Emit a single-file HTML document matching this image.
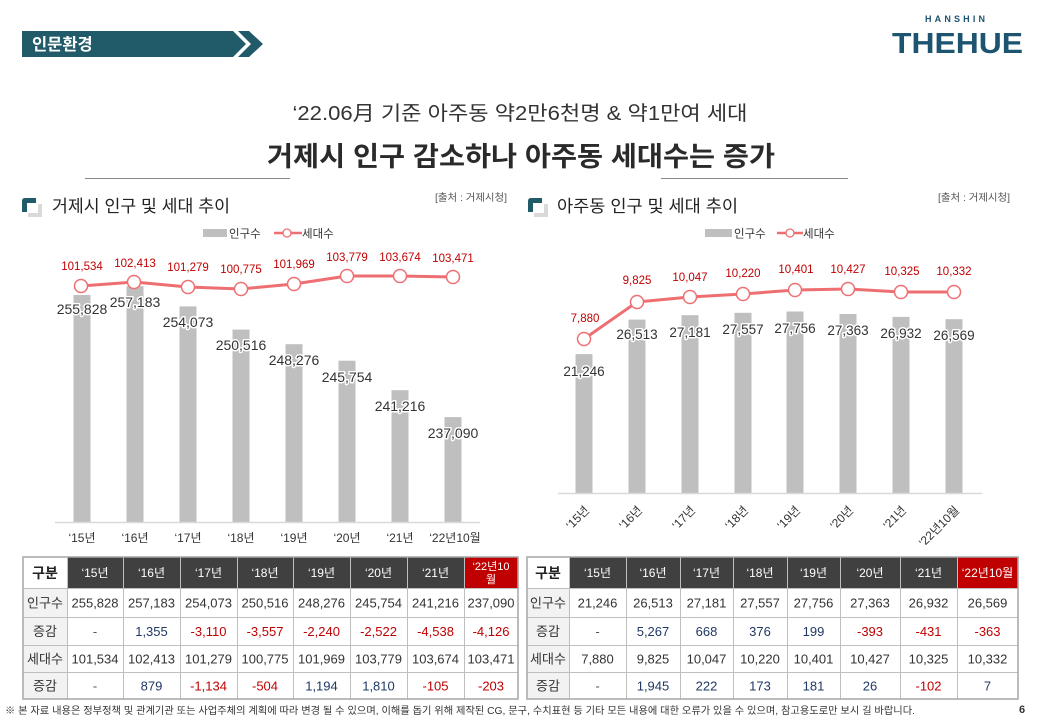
<!DOCTYPE html>
<html lang="ko">
<head>
<meta charset="utf-8">
<style>
  html,body{margin:0;padding:0;background:#fff;}
  body{width:1040px;height:720px;overflow:hidden;}
  svg{display:block;}
  text{font-family:"Liberation Sans","Noto Sans CJK KR",sans-serif;}
  .red{fill:#c00000;font-size:11.5px;text-anchor:middle;}
  .val{fill:#333;font-size:14px;text-anchor:middle;stroke:#fff;stroke-width:3px;paint-order:stroke;stroke-linejoin:round;}
  .valr{fill:#333;font-size:13.5px;text-anchor:middle;stroke:#fff;stroke-width:3px;paint-order:stroke;stroke-linejoin:round;}
  .xl{fill:#333;font-size:12px;text-anchor:middle;}
  .xr{fill:#333;font-size:12px;text-anchor:end;}
  .th{fill:#fff;font-size:12px;text-anchor:middle;}
  .td{fill:#333;font-size:13px;text-anchor:middle;}
  .tk{fill:#333;font-size:13px;text-anchor:middle;}
  .b{fill:#1f3864;font-size:13px;text-anchor:middle;}
  .r{fill:#c00000;font-size:13px;text-anchor:middle;}
  .d{fill:#555;font-size:13px;text-anchor:middle;}
</style>
</head>
<body>
<svg width="1040" height="720" viewBox="0 0 1040 720" xmlns="http://www.w3.org/2000/svg">
  <rect x="0" y="0" width="1040" height="720" fill="#fff"/>

  <!-- Header bar -->
  <polygon points="22,31 233,31 246,44 233,57 22,57" fill="#215a68"/>
  <polygon points="238,31 249,31 263,44 249,57 238,57 251,44" fill="#215a68"/>
  <text x="32" y="50" fill="#fff" font-size="16.5" font-weight="bold">인문환경</text>

  <!-- Logo -->
  <text x="925" y="22" fill="#1d5470" font-size="9" font-weight="bold" textLength="60" lengthAdjust="spacing">HANSHIN</text>
  <text x="892" y="53" fill="#1d5470" font-size="29" font-weight="bold" textLength="131" lengthAdjust="spacingAndGlyphs">THEHUE</text>

  <!-- Titles -->
  <text x="520" y="120" fill="#333" font-size="20" text-anchor="middle" textLength="455" lengthAdjust="spacingAndGlyphs">‘22.06月 기준 아주동 약2만6천명 &amp; 약1만여 세대</text>
  <text x="521" y="166" fill="#2a2a2a" font-size="27" font-weight="bold" text-anchor="middle" textLength="508" lengthAdjust="spacingAndGlyphs">거제시 인구 감소하나 아주동 세대수는 증가</text>
  <line x1="85" y1="178.5" x2="290" y2="178.5" stroke="#888" stroke-width="1"/>
  <line x1="661" y1="178.5" x2="848" y2="178.5" stroke="#888" stroke-width="1"/>

  <!-- Section icons & titles -->
  <g>
    <path d="M22,201 Q22,198 25,198 L36,198 L36,212 L22,212 Z" fill="#215a68"/>
    <rect x="28" y="204" width="14" height="13" fill="#d9d9d9"/>
    <rect x="27" y="203" width="11" height="10" fill="#fff"/>
    <text x="52" y="212" fill="#222" font-size="17" textLength="178" lengthAdjust="spacingAndGlyphs">거제시 인구 및 세대 추이</text>
    <text x="435" y="201" fill="#555" font-size="10" textLength="72" lengthAdjust="spacingAndGlyphs">[출처 : 거제시청]</text>
  </g>
  <g>
    <path d="M528,201 Q528,198 531,198 L542,198 L542,212 L528,212 Z" fill="#215a68"/>
    <rect x="534" y="204" width="14" height="13" fill="#d9d9d9"/>
    <rect x="533" y="203" width="11" height="10" fill="#fff"/>
    <text x="557" y="212" fill="#222" font-size="17" textLength="181" lengthAdjust="spacingAndGlyphs">아주동 인구 및 세대 추이</text>
    <text x="938" y="201" fill="#555" font-size="10" textLength="72" lengthAdjust="spacingAndGlyphs">[출처 : 거제시청]</text>
  </g>

  <!-- Legends -->
  <rect x="203" y="229" width="24" height="8" fill="#bfbfbf"/>
  <text x="229" y="237.5" fill="#333" font-size="11.5">인구수</text>
  <line x1="274" y1="233" x2="302" y2="233" stroke="#ee6f72" stroke-width="2.5"/>
  <circle cx="287" cy="233" r="4" fill="#fff" stroke="#ee6f72" stroke-width="1.3"/>
  <text x="302" y="237.5" fill="#333" font-size="11.5">세대수</text>

  <rect x="705" y="229" width="27" height="8" fill="#bfbfbf"/>
  <text x="734" y="237.5" fill="#333" font-size="11.5">인구수</text>
  <line x1="777" y1="233" x2="803" y2="233" stroke="#ee6f72" stroke-width="2.5"/>
  <circle cx="790" cy="233" r="4" fill="#fff" stroke="#ee6f72" stroke-width="1.3"/>
  <text x="803" y="237.5" fill="#333" font-size="11.5">세대수</text>

  <!-- LEFT CHART -->
  <g fill="#bfbfbf">
    <rect x="73.5" y="295" width="17" height="227"/>
    <rect x="126.5" y="286.2" width="17" height="235.8"/>
    <rect x="179.5" y="306.4" width="17" height="215.6"/>
    <rect x="232.5" y="329.6" width="17" height="192.4"/>
    <rect x="285.5" y="344.2" width="17" height="177.8"/>
    <rect x="338.5" y="360.7" width="17" height="161.3"/>
    <rect x="391.5" y="390.2" width="17" height="131.8"/>
    <rect x="444.5" y="417.1" width="17" height="104.9"/>
  </g>
  <line x1="55" y1="522.5" x2="480" y2="522.5" stroke="#d9d9d9" stroke-width="1.5"/>
  <g>
    <text class="val" x="82" y="314">255,828</text>
    <text class="val" x="135" y="307">257,183</text>
    <text class="val" x="188" y="327">254,073</text>
    <text class="val" x="241" y="350">250,516</text>
    <text class="val" x="294" y="365">248,276</text>
    <text class="val" x="347" y="382">245,754</text>
    <text class="val" x="400" y="411">241,216</text>
    <text class="val" x="453" y="438">237,090</text>
  </g>
  <polyline points="81,286 134,282 188,287 241,289 294,284 347,276 400,276 453,277" fill="none" stroke="#ee6f72" stroke-width="3" stroke-linejoin="round"/>
  <g fill="#fff" stroke="#ee6f72" stroke-width="1.5">
    <circle cx="81" cy="286" r="6.5"/>
    <circle cx="134" cy="282" r="6.5"/>
    <circle cx="188" cy="287" r="6.5"/>
    <circle cx="241" cy="289" r="6.5"/>
    <circle cx="294" cy="284" r="6.5"/>
    <circle cx="347" cy="276" r="6.5"/>
    <circle cx="400" cy="276" r="6.5"/>
    <circle cx="453" cy="277" r="6.5"/>
  </g>
  <g>
    <text class="red" x="82" y="270">101,534</text>
    <text class="red" x="135" y="267">102,413</text>
    <text class="red" x="188" y="271">101,279</text>
    <text class="red" x="241" y="273">100,775</text>
    <text class="red" x="294" y="268">101,969</text>
    <text class="red" x="347" y="261">103,779</text>
    <text class="red" x="400" y="261">103,674</text>
    <text class="red" x="453" y="262">103,471</text>
  </g>
  <g>
    <text class="xl" x="82" y="542">‘15년</text>
    <text class="xl" x="135" y="542">‘16년</text>
    <text class="xl" x="188" y="542">‘17년</text>
    <text class="xl" x="241" y="542">‘18년</text>
    <text class="xl" x="294" y="542">‘19년</text>
    <text class="xl" x="347" y="542">‘20년</text>
    <text class="xl" x="400" y="542">‘21년</text>
    <text class="xl" x="455" y="542">‘22년10월</text>
  </g>

  <!-- RIGHT CHART -->
  <g fill="#bfbfbf">
    <rect x="575.5" y="354.1" width="17" height="138.9"/>
    <rect x="628.5" y="319.6" width="17" height="173.4"/>
    <rect x="681.5" y="315.2" width="17" height="177.8"/>
    <rect x="734.5" y="312.8" width="17" height="180.2"/>
    <rect x="786.5" y="311.5" width="17" height="181.5"/>
    <rect x="839.5" y="314" width="17" height="179"/>
    <rect x="892.5" y="316.9" width="17" height="176.1"/>
    <rect x="945.5" y="319.2" width="17" height="173.8"/>
  </g>
  <line x1="558" y1="493.5" x2="982" y2="493.5" stroke="#d9d9d9" stroke-width="1.5"/>
  <g>
    <text class="valr" x="584" y="376">21,246</text>
    <text class="valr" x="637" y="339">26,513</text>
    <text class="valr" x="690" y="337">27,181</text>
    <text class="valr" x="743" y="334">27,557</text>
    <text class="valr" x="795" y="333">27,756</text>
    <text class="valr" x="848" y="335">27,363</text>
    <text class="valr" x="901" y="338">26,932</text>
    <text class="valr" x="954" y="340">26,569</text>
  </g>
  <polyline points="584,339 637,302 690,297 743,294 795,290 848,289 901,292 954,292" fill="none" stroke="#ee6f72" stroke-width="3" stroke-linejoin="round"/>
  <g fill="#fff" stroke="#ee6f72" stroke-width="1.5">
    <circle cx="584" cy="339" r="6.5"/>
    <circle cx="637" cy="302" r="6.5"/>
    <circle cx="690" cy="297" r="6.5"/>
    <circle cx="743" cy="294" r="6.5"/>
    <circle cx="795" cy="290" r="6.5"/>
    <circle cx="848" cy="289" r="6.5"/>
    <circle cx="901" cy="292" r="6.5"/>
    <circle cx="954" cy="292" r="6.5"/>
  </g>
  <g>
    <text class="red" x="585" y="322">7,880</text>
    <text class="red" x="637" y="284">9,825</text>
    <text class="red" x="690" y="281">10,047</text>
    <text class="red" x="743" y="277">10,220</text>
    <text class="red" x="796" y="273">10,401</text>
    <text class="red" x="848" y="273">10,427</text>
    <text class="red" x="902" y="275">10,325</text>
    <text class="red" x="954" y="275">10,332</text>
  </g>
  <g>
    <text class="xr" transform="translate(590,511) rotate(-45)">‘15년</text>
    <text class="xr" transform="translate(643,511) rotate(-45)">‘16년</text>
    <text class="xr" transform="translate(696,511) rotate(-45)">‘17년</text>
    <text class="xr" transform="translate(749,511) rotate(-45)">‘18년</text>
    <text class="xr" transform="translate(801,511) rotate(-45)">‘19년</text>
    <text class="xr" transform="translate(854,511) rotate(-45)">‘20년</text>
    <text class="xr" transform="translate(907,511) rotate(-45)">‘21년</text>
    <text class="xr" transform="translate(960,511) rotate(-45)">‘22년10월</text>
  </g>

  <!-- LEFT TABLE -->
  <g>
    <rect x="23" y="557" width="495" height="142" fill="#fff"/>
    <rect x="67" y="557" width="397" height="31" fill="#404040"/>
    <rect x="464" y="557" width="54" height="31" fill="#c00000"/>
    <rect x="23" y="588" width="44" height="111" fill="#f2f2f2"/>
    <g stroke="#bfbfbf" stroke-width="1">
      <line x1="23" y1="617.5" x2="518" y2="617.5"/>
      <line x1="23" y1="645.5" x2="518" y2="645.5"/>
      <line x1="23" y1="672.5" x2="518" y2="672.5"/>
      <line x1="23" y1="588.5" x2="518" y2="588.5"/>
      <line x1="67.5" y1="557" x2="67.5" y2="699"/>
      <line x1="123.5" y1="557" x2="123.5" y2="699"/>
      <line x1="180.5" y1="557" x2="180.5" y2="699"/>
      <line x1="237.5" y1="557" x2="237.5" y2="699"/>
      <line x1="293.5" y1="557" x2="293.5" y2="699"/>
      <line x1="350.5" y1="557" x2="350.5" y2="699"/>
      <line x1="407.5" y1="557" x2="407.5" y2="699"/>
      <line x1="464.5" y1="557" x2="464.5" y2="699"/>
    </g>
    <rect x="23" y="557" width="495" height="142" fill="none" stroke="#a6a6a6" stroke-width="1.5"/>
    <text x="45" y="578" fill="#222" font-size="14" font-weight="bold" text-anchor="middle">구분</text>
    <text class="th" x="95" y="577">‘15년</text>
    <text class="th" x="151.5" y="577">‘16년</text>
    <text class="th" x="208.5" y="577">‘17년</text>
    <text class="th" x="265" y="577">‘18년</text>
    <text class="th" x="321.5" y="577">‘19년</text>
    <text class="th" x="378.5" y="577">‘20년</text>
    <text class="th" x="435.5" y="577">‘21년</text>
    <text class="th" x="491" y="570" style="font-size:11px">‘22년10</text>
    <text class="th" x="491" y="583" style="font-size:11px">월</text>

    <text class="tk" x="45" y="607.5">인구수</text>
    <text class="td" x="95" y="607.5">255,828</text>
    <text class="td" x="151.5" y="607.5">257,183</text>
    <text class="td" x="208.5" y="607.5">254,073</text>
    <text class="td" x="265" y="607.5">250,516</text>
    <text class="td" x="321.5" y="607.5">248,276</text>
    <text class="td" x="378.5" y="607.5">245,754</text>
    <text class="td" x="435.5" y="607.5">241,216</text>
    <text class="td" x="491" y="607.5">237,090</text>

    <text class="tk" x="45" y="636">증감</text>
    <text class="d" x="95" y="636">-</text>
    <text class="b" x="151.5" y="636">1,355</text>
    <text class="r" x="208.5" y="636">-3,110</text>
    <text class="r" x="265" y="636">-3,557</text>
    <text class="r" x="321.5" y="636">-2,240</text>
    <text class="r" x="378.5" y="636">-2,522</text>
    <text class="r" x="435.5" y="636">-4,538</text>
    <text class="r" x="491" y="636">-4,126</text>

    <text class="tk" x="45" y="663.5">세대수</text>
    <text class="td" x="95" y="663.5">101,534</text>
    <text class="td" x="151.5" y="663.5">102,413</text>
    <text class="td" x="208.5" y="663.5">101,279</text>
    <text class="td" x="265" y="663.5">100,775</text>
    <text class="td" x="321.5" y="663.5">101,969</text>
    <text class="td" x="378.5" y="663.5">103,779</text>
    <text class="td" x="435.5" y="663.5">103,674</text>
    <text class="td" x="491" y="663.5">103,471</text>

    <text class="tk" x="45" y="690.5">증감</text>
    <text class="d" x="95" y="690.5">-</text>
    <text class="b" x="151.5" y="690.5">879</text>
    <text class="r" x="208.5" y="690.5">-1,134</text>
    <text class="r" x="265" y="690.5">-504</text>
    <text class="b" x="321.5" y="690.5">1,194</text>
    <text class="b" x="378.5" y="690.5">1,810</text>
    <text class="r" x="435.5" y="690.5">-105</text>
    <text class="r" x="491" y="690.5">-203</text>
  </g>

  <!-- RIGHT TABLE -->
  <g>
    <rect x="527" y="557" width="491" height="142" fill="#fff"/>
    <rect x="569" y="557" width="388" height="31" fill="#404040"/>
    <rect x="957" y="557" width="61" height="31" fill="#c00000"/>
    <rect x="527" y="588" width="42" height="111" fill="#f2f2f2"/>
    <g stroke="#bfbfbf" stroke-width="1">
      <line x1="527" y1="588.5" x2="1018" y2="588.5"/>
      <line x1="527" y1="617.5" x2="1018" y2="617.5"/>
      <line x1="527" y1="645.5" x2="1018" y2="645.5"/>
      <line x1="527" y1="672.5" x2="1018" y2="672.5"/>
      <line x1="569.5" y1="557" x2="569.5" y2="699"/>
      <line x1="626.5" y1="557" x2="626.5" y2="699"/>
      <line x1="680.5" y1="557" x2="680.5" y2="699"/>
      <line x1="733.5" y1="557" x2="733.5" y2="699"/>
      <line x1="787.5" y1="557" x2="787.5" y2="699"/>
      <line x1="840.5" y1="557" x2="840.5" y2="699"/>
      <line x1="900.5" y1="557" x2="900.5" y2="699"/>
      <line x1="957.5" y1="557" x2="957.5" y2="699"/>
    </g>
    <rect x="527" y="557" width="491" height="142" fill="none" stroke="#a6a6a6" stroke-width="1.5"/>
    <text x="548" y="578" fill="#222" font-size="14" font-weight="bold" text-anchor="middle">구분</text>
    <text class="th" x="597.5" y="577">‘15년</text>
    <text class="th" x="653" y="577">‘16년</text>
    <text class="th" x="706.5" y="577">‘17년</text>
    <text class="th" x="760" y="577">‘18년</text>
    <text class="th" x="813.5" y="577">‘19년</text>
    <text class="th" x="870" y="577">‘20년</text>
    <text class="th" x="928.5" y="577">‘21년</text>
    <text class="th" x="987.5" y="577">‘22년10월</text>

    <text class="tk" x="548" y="607.5">인구수</text>
    <text class="td" x="597.5" y="607.5">21,246</text>
    <text class="td" x="653" y="607.5">26,513</text>
    <text class="td" x="706.5" y="607.5">27,181</text>
    <text class="td" x="760" y="607.5">27,557</text>
    <text class="td" x="813.5" y="607.5">27,756</text>
    <text class="td" x="870" y="607.5">27,363</text>
    <text class="td" x="928.5" y="607.5">26,932</text>
    <text class="td" x="987.5" y="607.5">26,569</text>

    <text class="tk" x="548" y="636">증감</text>
    <text class="d" x="597.5" y="636">-</text>
    <text class="b" x="653" y="636">5,267</text>
    <text class="b" x="706.5" y="636">668</text>
    <text class="b" x="760" y="636">376</text>
    <text class="b" x="813.5" y="636">199</text>
    <text class="r" x="870" y="636">-393</text>
    <text class="r" x="928.5" y="636">-431</text>
    <text class="r" x="987.5" y="636">-363</text>

    <text class="tk" x="548" y="663.5">세대수</text>
    <text class="td" x="597.5" y="663.5">7,880</text>
    <text class="td" x="653" y="663.5">9,825</text>
    <text class="td" x="706.5" y="663.5">10,047</text>
    <text class="td" x="760" y="663.5">10,220</text>
    <text class="td" x="813.5" y="663.5">10,401</text>
    <text class="td" x="870" y="663.5">10,427</text>
    <text class="td" x="928.5" y="663.5">10,325</text>
    <text class="td" x="987.5" y="663.5">10,332</text>

    <text class="tk" x="548" y="690.5">증감</text>
    <text class="d" x="597.5" y="690.5">-</text>
    <text class="b" x="653" y="690.5">1,945</text>
    <text class="b" x="706.5" y="690.5">222</text>
    <text class="b" x="760" y="690.5">173</text>
    <text class="b" x="813.5" y="690.5">181</text>
    <text class="b" x="870" y="690.5">26</text>
    <text class="r" x="928.5" y="690.5">-102</text>
    <text class="b" x="987.5" y="690.5">7</text>
  </g>

  <!-- Footer -->
  <text x="5" y="714" fill="#333" font-size="10" textLength="910" lengthAdjust="spacingAndGlyphs">※ 본 자료 내용은 정부정책 및 관계기관 또는 사업주체의 계획에 따라 변경 될 수 있으며, 이해를 돕기 위해 제작된 CG, 문구, 수치표현 등 기타 모든 내용에 대한 오류가 있을 수 있으며, 참고용도로만 보시 길 바랍니다.</text>
  <text x="1019" y="713" fill="#333" font-size="11" font-weight="bold">6</text>
</svg>
</body>
</html>
